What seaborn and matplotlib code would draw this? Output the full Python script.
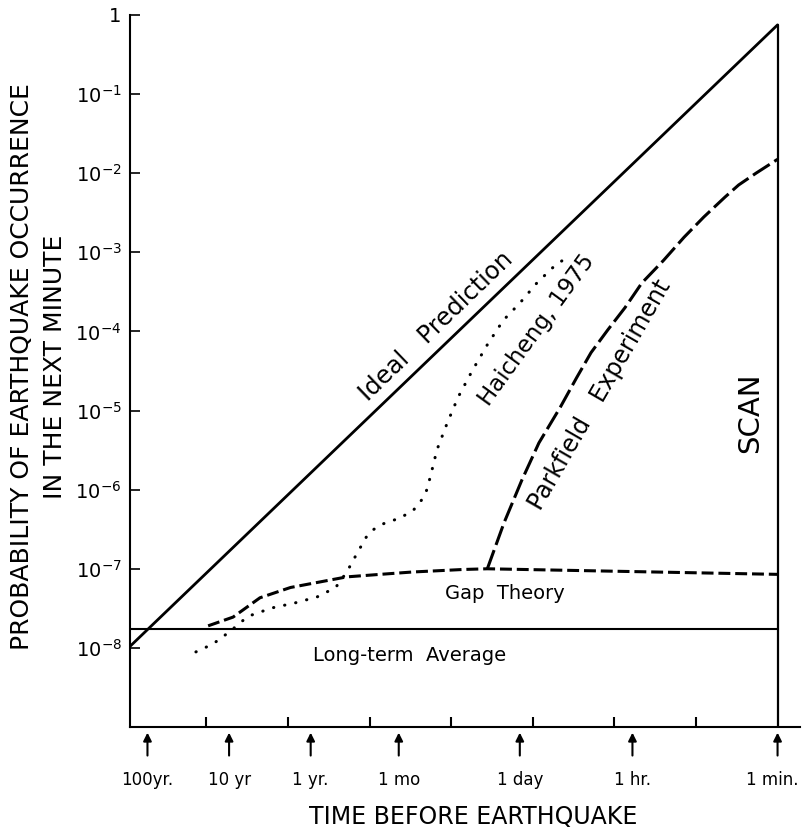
import matplotlib
matplotlib.use("Agg")
import matplotlib.pyplot as plt
import matplotlib.transforms as mtransforms
import seaborn as sns
from matplotlib.ticker import FixedLocator, NullLocator, NullFormatter

# ---------------- data ----------------
time_labels = ["100yr.", "10 yr", "1 yr.", "1 mo", "1 day", "1 hr.", "1 min."]
time_minutes = [52596000, 5259600, 525960, 43830, 1440, 60, 1]
decade_ticks = [1e7, 1e6, 1e5, 1e4, 1e3, 1e2, 1e1]

prob_ticks = [1, 1e-1, 1e-2, 1e-3, 1e-4, 1e-5, 1e-6, 1e-7, 1e-8]
prob_labels = ["1", r"$10^{-1}$", r"$10^{-2}$", r"$10^{-3}$", r"$10^{-4}$",
               r"$10^{-5}$", r"$10^{-6}$", r"$10^{-7}$", r"$10^{-8}$"]

ideal_t = [9.0e7, 1.0]
ideal_p = [1.0e-8, 0.75]

longterm_t = [9.0e7, 1.0]
longterm_p = [1.75e-8, 1.75e-8]

scan_t = [1.0, 1.0]
scan_p = [1.0e-9, 0.75]

gap_t = [9.5e6, 4.7e6, 2.2e6, 9.3e5, 4.1e5, 1.9e5, 7.4e4, 3.0e4, 7.1e3, 3.6e3, 1.0]
gap_p = [1.9e-8, 2.45e-8, 4.3e-8, 5.8e-8, 6.8e-8, 7.9e-8, 8.5e-8, 9.1e-8, 9.8e-8, 1.0e-7, 8.5e-8]

haicheng_t = [1.34e7, 8.3e6, 5.1e6, 3.1e6, 1.57e6, 8.2e5, 4.4e5, 2.6e5, 1.9e5, 1.43e5,
              1.10e5, 9.1e4, 6.8e4, 4.2e4, 2.9e4, 2.3e4, 2.0e4, 1.8e4, 1.49e4, 1.12e4,
              8.2e3, 5.5e3, 3.6e3, 2.3e3, 1.43e3, 8.9e2, 5.6e2, 3.8e2]
haicheng_p = [8.9e-9, 1.12e-8, 1.62e-8, 2.5e-8, 3.2e-8, 3.7e-8, 4.4e-8, 5.8e-8, 9.1e-8, 1.55e-7,
              2.5e-7, 3.1e-7, 3.7e-7, 4.4e-7, 5.5e-7, 7.4e-7, 9.8e-7, 1.45e-6, 3.2e-6, 6.9e-6,
              1.48e-5, 3.2e-5, 6.8e-5, 1.38e-4, 2.3e-4, 4.1e-4, 6.5e-4, 8.7e-4]

parkfield_t = [3.6e3, 2.25e3, 1.36e3, 8.4e2, 4.6e2, 2.9e2, 1.93e2, 1.2e2, 74, 46, 25, 14,
               8.0, 4.4, 3.0, 1.84, 1.0]
parkfield_p = [1.0e-7, 3.8e-7, 1.32e-6, 3.9e-6, 1.1e-5, 2.6e-5, 5.4e-5, 1.05e-4, 2.0e-4,
               4.1e-4, 7.9e-4, 1.55e-3, 2.8e-3, 5.0e-3, 7.1e-3, 1.0e-2, 1.5e-2]

# ---------------- figure ----------------
sns.set_theme(style="white")
plt.rcParams['font.family'] = ['DejaVu Sans']
plt.rcParams['mathtext.default'] = 'regular'

fig = plt.figure(figsize=(8.02, 8.32), dpi=100)
ax = fig.add_axes([130 / 802, 1 - 727 / 832, 670 / 802, 712 / 832])
ax.set_xscale('log')
ax.set_yscale('log')
ax.set_xlim(10 ** 7.935, 10 ** -0.275)
ax.set_ylim(1e-9, 1)

common = dict(ax=ax, color='black', estimator=None, sort=False, legend=False)
sns.lineplot(x=ideal_t, y=ideal_p, lw=2.0, **common)
sns.lineplot(x=longterm_t, y=longterm_p, lw=1.5, **common)
sns.lineplot(x=scan_t, y=scan_p, lw=1.6, **common)
sns.lineplot(x=gap_t, y=gap_p, lw=2.2, linestyle=(0, (3.9, 1.6)), **common)
sns.lineplot(x=parkfield_t, y=parkfield_p, lw=2.2, linestyle=(0, (6.5, 1.8)), **common)
sns.lineplot(x=haicheng_t, y=haicheng_p, lw=2.2, linestyle=(0, (0.1, 3.6)),
             dash_capstyle='round', **common)

# spines
for s in ['top', 'right']:
    ax.spines[s].set_visible(False)
for s in ['left', 'bottom']:
    ax.spines[s].set_color('black')
    ax.spines[s].set_linewidth(1.5)

# y ticks
ax.yaxis.set_major_locator(FixedLocator(prob_ticks))
ax.set_yticklabels(prob_labels)
ax.yaxis.set_minor_locator(NullLocator())
ax.tick_params(axis='y', which='major', direction='in', length=7, width=1.2,
               labelsize=14, pad=6, colors='black', left=True)

# x ticks
ax.xaxis.set_major_locator(FixedLocator(time_minutes))
ax.set_xticklabels(time_labels)
ax.xaxis.set_minor_locator(FixedLocator(decade_ticks))
ax.xaxis.set_minor_formatter(NullFormatter())
ax.tick_params(axis='x', which='major', length=0, pad=32, labelsize=12, colors='black')
ax.tick_params(axis='x', which='minor', direction='in', length=7, width=1.5,
               colors='black', bottom=True)

for t in time_minutes:
    ax.annotate('', xy=(t, -0.004), xytext=(t, -0.044),
                xycoords=('data', 'axes fraction'), textcoords=('data', 'axes fraction'),
                arrowprops=dict(arrowstyle='-|>', color='black', lw=1.5, mutation_scale=12),
                annotation_clip=False)

# axis labels
ax.set_ylabel("PROBABILITY OF EARTHQUAKE OCCURRENCE\nIN THE NEXT MINUTE",
              fontsize=18, linespacing=1.5, color='black')
ax.yaxis.set_label_coords(-0.094, 0.506)
ax.set_xlabel("TIME BEFORE EARTHQUAKE", fontsize=17, color='black')
ax.xaxis.set_label_coords(0.512, -0.110)

# in-plot labels
txt = dict(color='black', ha='center', va='center', rotation_mode='anchor')
ax.text(1.53e4, 1.17e-4, "Ideal   Prediction", rotation=44, fontsize=17.5, **txt)
ax.text(890, 1.04e-4, "Haicheng, 1975", rotation=54, fontsize=16.5, **txt)
ax.text(150, 1.6e-5, "Parkfield   Experiment", rotation=60, fontsize=17, **txt)
ax.text(2.18, 9.3e-6, "SCAN", rotation=90, fontsize=21, **txt)
ax.text(2.2e3, 4.8e-8, "Gap  Theory", rotation=0, fontsize=14, **txt)
ax.text(3.2e4, 8.1e-9, "Long-term  Average", rotation=0, fontsize=14, **txt)

# keep the last time label inside the figure
fig.canvas.draw()
shift = mtransforms.ScaledTranslation(-5 / 100, 0, fig.dpi_scale_trans)
for tick in ax.xaxis.get_major_ticks():
    if tick.label1.get_text() == "1 min.":
        tick.label1.set_transform(tick.label1.get_transform() + shift)

fig.savefig("out.png", dpi=100)
